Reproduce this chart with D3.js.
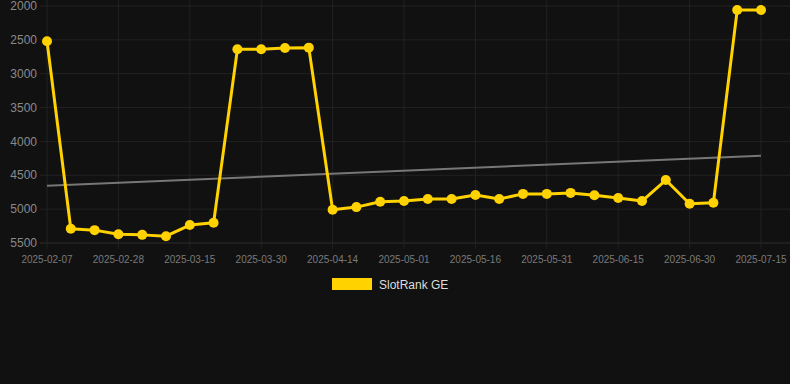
<!DOCTYPE html>
<html>
<head>
<meta charset="utf-8">
<script src="https://cdn.jsdelivr.net/npm/d3@7"></script>
<style>
  html, body { margin: 0; padding: 0; background: #111111; }
  svg { display: block; }
</style>
</head>
<body>
<div id="chart"></div>
<script>
// categories (one point per sample date)
const dates = [
  "2025-02-07", "2025-02-14", "2025-02-21", "2025-02-28", "2025-03-05", "2025-03-10",
  "2025-03-15", "2025-03-20", "2025-03-25", "2025-03-30", "2025-04-04", "2025-04-09",
  "2025-04-14", "2025-04-20", "2025-04-25", "2025-05-01", "2025-05-06", "2025-05-11",
  "2025-05-16", "2025-05-21", "2025-05-26", "2025-05-31", "2025-06-05", "2025-06-10",
  "2025-06-15", "2025-06-20", "2025-06-25", "2025-06-30", "2025-07-05", "2025-07-10",
  "2025-07-15"
]
// SlotRank GE (lower is better, axis reversed)
const rank = [
  2520, 5290, 5310, 5370, 5380, 5400, 5235, 5200, 2640, 2640, 2620, 2615,
  5010, 4970, 4890, 4880, 4850, 4850, 4790, 4850, 4775, 4775, 4760, 4795,
  4835, 4880, 4570, 4920, 4905, 2060, 2060
]
// trend line end values
const trend = [4655, 4210]
const yTicks = [2000, 2500, 3000, 3500, 4000, 4500, 5000, 5500]
const xTickLabels = ["2025-02-07", "2025-02-28", "2025-03-15", "2025-03-30", "2025-04-14",
  "2025-05-01", "2025-05-16", "2025-05-31", "2025-06-15", "2025-06-30", "2025-07-15"]
const seriesName = "SlotRank GE"

const width = 790
const height = 384
const font = "'Liberation Sans', Arial, Helvetica, sans-serif"
const yellow = "#ffd200"

const svg = d3.select("#chart").append("svg")
  .attr("width", width)
  .attr("height", height)

svg.append("rect").attr("width", width).attr("height", height).attr("fill", "#111111")

const x = d3.scalePoint().domain(dates).range([47, 761])
const y = d3.scaleLinear().domain([2000, 5500]).range([6, 243])

const gridLeft = 40
const gridRight = 790

// horizontal grid
svg.append("g")
  .selectAll("line")
  .data(yTicks)
  .join("line")
  .attr("x1", gridLeft).attr("x2", gridRight)
  .attr("y1", d => y(d)).attr("y2", d => y(d))
  .attr("stroke", d => d === 5500 ? "#2e2e2e" : "#222222")
  .attr("stroke-width", 1)

// vertical grid
svg.append("g")
  .selectAll("line")
  .data(xTickLabels)
  .join("line")
  .attr("x1", d => x(d)).attr("x2", d => x(d))
  .attr("y1", 0).attr("y2", y(5500) + 6)
  .attr("stroke", "#222222")
  .attr("stroke-width", 1)

// y labels
svg.append("g")
  .attr("font-family", font)
  .attr("font-size", 12)
  .attr("fill", "#8a8a8a")
  .attr("text-anchor", "end")
  .selectAll("text")
  .data(yTicks)
  .join("text")
  .attr("x", 37)
  .attr("y", d => y(d))
  .attr("dy", "0.35em")
  .text(d => d)

// x labels
svg.append("g")
  .attr("font-family", font)
  .attr("font-size", 10)
  .attr("fill", "#7a7a7a")
  .attr("text-anchor", "middle")
  .selectAll("text")
  .data(xTickLabels)
  .join("text")
  .attr("x", d => x(d))
  .attr("y", 263)
  .text(d => d)

// trend line
svg.append("line")
  .attr("x1", x(dates[0])).attr("x2", x(dates[dates.length - 1]))
  .attr("y1", y(trend[0])).attr("y2", y(trend[1]))
  .attr("stroke", "#777777")
  .attr("stroke-width", 2)

// series line
const line = d3.line()
  .x((d, i) => x(dates[i]))
  .y(d => y(d))

svg.append("path")
  .datum(rank)
  .attr("d", line)
  .attr("fill", "none")
  .attr("stroke", yellow)
  .attr("stroke-width", 3)
  .attr("stroke-linejoin", "round")

svg.append("g")
  .selectAll("circle")
  .data(rank)
  .join("circle")
  .attr("cx", (d, i) => x(dates[i]))
  .attr("cy", d => y(d))
  .attr("r", 5)
  .attr("fill", yellow)

// legend
const legend = svg.append("g")
legend.append("rect")
  .attr("x", 332).attr("y", 278)
  .attr("width", 40).attr("height", 12)
  .attr("fill", yellow)
legend.append("text")
  .attr("x", 379).attr("y", 289)
  .attr("font-family", font)
  .attr("font-size", 12)
  .attr("fill", "#dddddd")
  .text(seriesName)
</script>
</body>
</html>
